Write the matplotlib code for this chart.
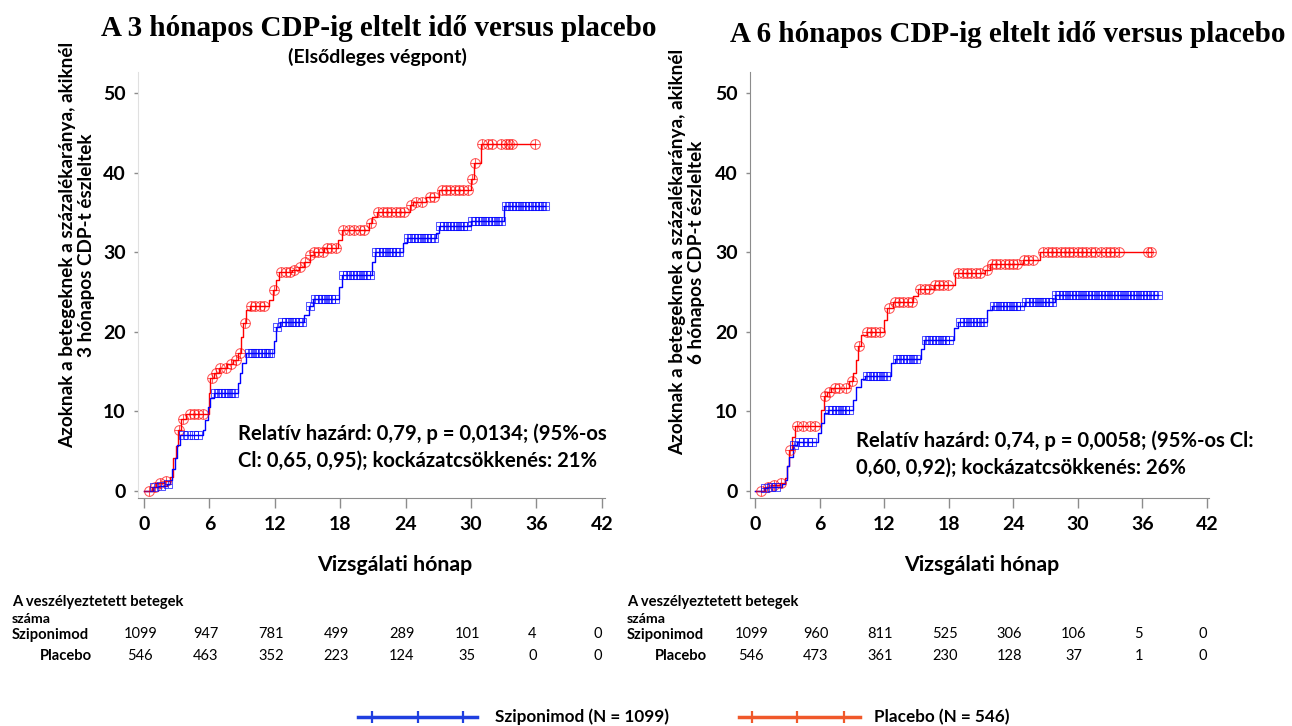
import matplotlib
matplotlib.use("Agg")
import matplotlib.pyplot as plt
import numpy as np
from matplotlib.lines import Line2D
from matplotlib.path import Path
from matplotlib.transforms import blended_transform_factory

# ---- data ----
months = [0, 6, 12, 18, 24, 30, 36, 42]
yticks = [0, 10, 20, 30, 40, 50]

# 3-month CDP (left panel)
siponimod3_t = [0, 0.8, 1.4, 2.1, 2.4, 2.6, 2.8, 3.0, 3.3, 5.4, 5.6, 5.9, 6.1, 6.4, 8.6, 8.8, 9.0, 9.4,
                11.9, 12.1, 12.5, 14.7, 15.1, 15.5, 17.9, 18.2, 20.9, 21.2, 23.8, 24.1, 26.8, 27.1,
                30.0, 33.0, 36.8]
siponimod3_p = [0, 0.46, 0.6, 0.9, 1.4, 2.7, 4.1, 5.8, 7.0, 7.7, 8.9, 10.6, 11.7, 12.3, 13.6, 14.8, 16.1, 17.4,
                18.9, 20.6, 21.3, 22.1, 23.2, 24.2, 25.7, 27.2, 28.8, 30.1, 31.2, 31.8, 32.5, 33.3,
                34.0, 35.8, 35.8]
placebo3_t = [0, 0.7, 1.1, 1.8, 2.4, 2.7, 2.9, 3.1, 3.4, 3.9, 6.0, 6.1, 6.4, 6.9, 7.6, 8.2, 8.6, 8.9, 9.1,
              9.4, 9.7, 11.5, 11.8, 12.1, 12.4, 13.6, 14.2, 14.7, 15.2, 15.6, 16.5, 17.8, 18.2, 20.6,
              20.9, 21.4, 24.4, 24.7, 25.9, 27.1, 30.0, 30.3, 30.9, 35.9]
placebo3_p = [0, 0.46, 0.96, 1.2, 1.8, 4.1, 5.6, 7.7, 9.1, 9.7, 12.3, 14.2, 14.8, 15.4, 15.9, 16.5, 17.3, 19.4,
              21.1, 22.7, 23.2, 24.0, 25.3, 26.5, 27.5, 27.8, 28.2, 28.8, 29.7, 30.1, 30.5, 31.6, 32.8,
              33.7, 34.4, 35.1, 36.0, 36.4, 37.0, 37.9, 39.3, 41.2, 43.6, 43.6]
siponimod3_cens = [0.9, 1.6, 2.2, 3.6, 4.0, 4.6, 5.0, 6.5, 6.8, 7.1, 7.4, 7.7, 8.0, 8.3, 9.6, 9.9, 10.2,
                   10.5, 10.8, 11.1, 11.4, 11.6, 12.2, 12.7, 13.0, 13.3, 13.6, 13.9, 14.2, 14.5, 15.2,
                   15.7, 16.0, 16.3, 16.6, 16.9, 17.2, 17.5, 18.3, 18.6, 18.9, 19.2, 19.5, 19.8, 20.1,
                   20.4, 20.7, 21.3, 21.6, 21.9, 22.2, 22.5, 22.8, 23.1, 23.4, 24.2, 24.5, 24.8, 25.1,
                   25.4, 25.7, 26.0, 26.3, 26.6, 27.2, 27.5, 27.8, 28.1, 28.4, 28.7, 29.0, 29.3, 29.6,
                   30.1, 30.4, 30.7, 31.0, 31.3, 31.6, 31.9, 32.2, 32.5, 32.8, 33.2, 33.5, 33.8, 34.1,
                   34.4, 34.7, 35.0, 35.3, 35.6, 35.9, 36.2, 36.5, 36.8]
placebo3_cens = [0.5, 1.0, 1.5, 2.0, 3.2, 3.6, 4.2, 4.6, 5.0, 5.4, 6.2, 6.6, 7.0, 7.5, 8.0, 8.4, 8.8,
                 9.3, 9.8, 10.2, 10.6, 11.0, 11.9, 12.6, 13.0, 13.4, 13.8, 14.3, 14.8, 15.2, 15.6,
                 16.0, 16.4, 16.8, 17.2, 17.6, 18.3, 18.8, 19.3, 19.8, 20.2, 20.8, 21.5, 21.9, 22.3,
                 22.7, 23.1, 23.5, 23.9, 24.5, 25.0, 25.5, 26.2, 26.6, 27.3, 27.7, 28.1, 28.5, 28.9,
                 29.3, 29.7, 30.1, 30.4, 31.0, 31.6, 31.9, 32.8, 33.2, 33.5, 33.8, 35.9]

# 6-month CDP (right panel)
siponimod6_t = [0, 0.8, 1.2, 2.5, 2.8, 3.0, 3.2, 3.5, 3.9, 5.9, 6.1, 6.4, 6.8, 9.1, 9.4, 9.9, 10.2, 12.6,
                13.0, 15.4, 15.7, 18.5, 18.9, 21.6, 22.0, 25.1, 27.9, 37.5]
siponimod6_p = [0, 0.3, 0.5, 0.8, 1.4, 3.1, 4.3, 5.8, 6.2, 7.3, 8.5, 9.8, 10.2, 11.4, 13.1, 14.1, 14.4, 16.1,
                16.6, 17.9, 19.0, 20.5, 21.2, 22.8, 23.3, 23.8, 24.7, 24.7]
placebo6_t = [0, 0.9, 1.5, 2.3, 2.8, 3.0, 3.2, 3.4, 3.7, 6.1, 6.4, 6.7, 7.1, 8.7, 9.1, 9.4, 9.6, 9.9, 10.4,
              12.0, 12.3, 12.8, 14.7, 15.2, 16.6, 18.6, 21.4, 21.8, 24.9, 26.5, 36.9]
placebo6_p = [0, 0.46, 0.76, 0.97, 1.6, 3.1, 5.2, 6.8, 8.1, 10.2, 11.9, 12.5, 12.9, 13.8, 14.8, 16.5, 18.2,
              19.6, 20.0, 21.5, 23.0, 23.8, 24.5, 25.4, 25.9, 27.4, 27.8, 28.5, 29.1, 30.0, 30.0]
siponimod6_cens = [0.9, 1.5, 2.0, 3.6, 4.1, 4.5, 4.9, 5.3, 6.9, 7.2, 7.5, 7.8, 8.1, 8.4, 8.7, 10.4, 10.7,
                   11.0, 11.3, 11.6, 11.9, 12.2, 13.2, 13.5, 13.8, 14.1, 14.4, 14.7, 15.0, 15.9, 16.2,
                   16.5, 16.8, 17.1, 17.4, 17.7, 18.0, 19.1, 19.4, 19.7, 20.0, 20.3, 20.6, 20.9, 21.2,
                   22.2, 22.5, 22.8, 23.1, 23.4, 23.7, 24.0, 24.3, 24.6, 25.2, 25.5, 25.8, 26.1, 26.4,
                   26.7, 27.0, 27.3, 27.6, 28.0, 28.3, 28.6, 28.9, 29.2, 29.5, 29.8, 30.1, 30.4, 30.7,
                   31.0, 31.3, 31.6, 31.9, 32.2, 32.5, 32.8, 33.1, 33.4, 33.7, 34.0, 34.3, 34.6, 34.9,
                   35.2, 35.5, 35.8, 36.1, 36.4, 36.7, 37.0, 37.5]
placebo6_cens = [0.6, 1.2, 1.8, 2.4, 3.3, 3.9, 4.5, 5.1, 5.6, 6.5, 6.9, 7.4, 7.8, 8.5, 9.0, 9.7, 10.4,
                 10.8, 11.2, 11.6, 12.5, 13.0, 13.4, 13.8, 14.2, 14.6, 15.3, 15.8, 16.2, 16.7, 17.1,
                 17.5, 17.9, 18.9, 19.3, 19.7, 20.1, 20.5, 20.9, 21.6, 22.0, 22.4, 22.8, 23.2, 23.6,
                 24.0, 24.4, 25.0, 25.4, 25.8, 26.8, 27.2, 27.6, 28.0, 28.4, 28.8, 29.2, 29.6, 30.0,
                 30.4, 30.8, 31.2, 31.6, 32.2, 32.6, 33.0, 33.4, 33.8, 36.5, 36.8]

risk_siponimod3 = [1099, 947, 781, 499, 289, 101, 4, 0]
risk_placebo3 = [546, 463, 352, 223, 124, 35, 0, 0]
risk_siponimod6 = [1099, 960, 811, 525, 306, 106, 5, 0]
risk_placebo6 = [546, 473, 361, 230, 128, 37, 1, 0]

titles = ["A 3 hónapos CDP-ig eltelt idő versus placebo", "A 6 hónapos CDP-ig eltelt idő versus placebo"]
ylabels = ["Azoknak a betegeknek a százalékaránya, akiknél\n3 hónapos CDP-t észleltek",
           "Azoknak a betegeknek a százalékaránya, akiknél\n6 hónapos CDP-t észleltek"]
notes = [("Relatív hazárd: 0,79, p = 0,0134; (95%-os", "Cl: 0,65, 0,95); kockázatcsökkenés: 21%"),
         ("Relatív hazárd: 0,74, p = 0,0058; (95%-os Cl:", "0,60, 0,92); kockázatcsökkenés: 26%")]

SANS = ["Lato", "DejaVu Sans"]
SERIF = ["Liberation Serif", "DejaVu Serif"]
BLUE = "#0000FF"
RED = "#FF0000"
W, H = 1292, 726

plt.rcParams["font.family"] = SANS


def fx(px):
    return px / W


def fy(py):
    return 1 - py / H


# censor markers: box with plus / circle with plus
cross = Path([(-1, 0), (1, 0), (0, -1), (0, 1)],
             [Path.MOVETO, Path.LINETO, Path.MOVETO, Path.LINETO])
box = Path([(-1, -1), (1, -1), (1, 1), (-1, 1), (-1, -1)],
           [Path.MOVETO, Path.LINETO, Path.LINETO, Path.LINETO, Path.CLOSEPOLY])
box_plus = Path.make_compound_path(box, cross)
circle_plus = Path.make_compound_path(Path.unit_circle(), cross)


def km(ax, t, p, cens, color, marker, ms):
    t = np.asarray(t)
    p = np.asarray(p)
    ax.step(t, p, where="post", color=color, lw=1.0, zorder=3)
    c = np.asarray(cens)
    idx = np.clip(np.searchsorted(t, c, side="right") - 1, 0, len(p) - 1)
    ax.plot(c, p[idx], ls="none", marker=marker, ms=ms, mfc="none", mec=color,
            mew=0.75, alpha=0.65, zorder=4)


fig = plt.figure(figsize=(W / 100, H / 100), dpi=100)

panels = [
    dict(rect=[fx(138), fy(498), fx(605) - fx(138), fy(72) - fy(498)], xlim=(-0.55, 42.3),
         spine_left="#e0e0e0"),
    dict(rect=[fx(750), fy(498), fx(1209) - fx(750), fy(72) - fy(498)], xlim=(-0.46, 42.2),
         spine_left="#8c8c8c"),
]
curves = [
    (siponimod3_t, siponimod3_p, siponimod3_cens, placebo3_t, placebo3_p, placebo3_cens),
    (siponimod6_t, siponimod6_p, siponimod6_cens, placebo6_t, placebo6_p, placebo6_cens),
]
risks = [(risk_siponimod3, risk_placebo3), (risk_siponimod6, risk_placebo6)]
title_pos = [(379, 28), (1008, 35)]
ylabel_pos = [(77, 245), (687, 252)]
xlabel_pos = [(395, 565), (982, 565)]
note_pos = [(238, 434, 461), (856, 441, 468)]
table_x = [12, 627]

axes = []
for i, pan in enumerate(panels):
    ax = fig.add_axes(pan["rect"])
    axes.append(ax)
    st, sp, sc, pt, pp, pc = curves[i]
    km(ax, pt, pp, pc, RED, circle_plus, 7.0)
    km(ax, st, sp, sc, BLUE, box_plus, 6.0)

    ax.set_xlim(*pan["xlim"])
    ax.set_ylim(-0.9, 52.7)
    ax.set_xticks(months)
    ax.set_yticks(yticks)
    for s in ("top", "right"):
        ax.spines[s].set_visible(False)
    ax.spines["bottom"].set_color("#8c8c8c")
    ax.spines["left"].set_color(pan["spine_left"])
    ax.tick_params(axis="x", direction="out", length=7, width=1, color="#8c8c8c", pad=6,
                   labelsize=14)
    ax.tick_params(axis="y", direction="out", length=3, width=1, color="#8c8c8c", pad=6,
                   labelsize=14)
    for lab in ax.get_xticklabels() + ax.get_yticklabels():
        lab.set_fontweight("bold")

    tx, ty = title_pos[i]
    fig.text(fx(tx), fy(ty), titles[i], ha="center", va="center", family=SERIF,
             fontweight="bold", fontsize=21)
    lx, ly = ylabel_pos[i]
    fig.text(fx(lx), fy(ly), ylabels[i], rotation=90, ha="center", va="center",
             multialignment="center", fontweight="bold", fontsize=13.6, linespacing=1.1)
    xx, xy = xlabel_pos[i]
    fig.text(fx(xx), fy(xy), "Vizsgálati hónap", ha="center", va="center",
             fontweight="bold", fontsize=15.4)
    nx, ny1, ny2 = note_pos[i]
    fig.text(fx(nx), fy(ny1), notes[i][0], ha="left", va="center", fontweight="bold",
             fontsize=14.6)
    fig.text(fx(nx), fy(ny2), notes[i][1], ha="left", va="center", fontweight="bold",
             fontsize=14.6)

    # number at risk table
    x0 = table_x[i]
    fig.text(fx(x0), fy(602), "A veszélyeztetett betegek", ha="left", va="center",
             fontweight="bold", fontsize=10.6)
    fig.text(fx(x0), fy(619), "száma", ha="left", va="center", fontweight="bold", fontsize=10.2)
    fig.text(fx(x0), fy(635), "Sziponimod", ha="left", va="center", fontweight="bold",
             fontsize=10.6)
    fig.text(fx(x0 + 28), fy(656), "Placebo", ha="left", va="center", fontweight="bold",
             fontsize=10.6)
    trans = blended_transform_factory(ax.transData, fig.transFigure)
    for m, a, b in zip(months, risks[i][0], risks[i][1]):
        ax.text(m - 0.35, fy(634), str(a), transform=trans, ha="center", va="center",
                fontsize=10.5, clip_on=False)
        ax.text(m - 0.35, fy(656), str(b), transform=trans, ha="center", va="center",
                fontsize=10.5, clip_on=False)

fig.text(fx(377), fy(57), "(Elsődleges végpont)", ha="center", va="center",
         fontweight="bold", fontsize=14)

# legend at the bottom
leg = [("Sziponimod (N = 1099)", "#1f3fe0", (358, 477), (372, 418, 463), 495),
       ("Placebo (N = 546)", "#f0582a", (739, 860), (752, 797, 844), 874)]
for label, col, (xa, xb), ticks, xt in leg:
    fig.add_artist(Line2D([fx(xa), fx(xb)], [fy(717), fy(717)], color=col, lw=2.5,
                          transform=fig.transFigure))
    fig.add_artist(Line2D([fx(v) for v in ticks], [fy(717)] * 3, ls="none", marker="|",
                          ms=9, mew=1.6, color=col, transform=fig.transFigure))
    fig.text(fx(xt), fy(717), label, ha="left", va="center", fontweight="bold", fontsize=12.3)

fig.savefig("out.png", dpi=100)
